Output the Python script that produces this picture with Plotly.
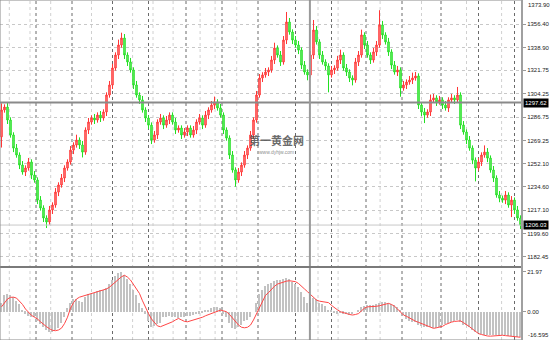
import plotly.graph_objects as go

# ---------------- data ----------------
open_first = 1272.0
close = [
    1292.1, 1294.3, 1284.6, 1273.4, 1263.6, 1258.4, 1250.9, 1245.7, 1248.7, 1253.2,
    1243.4, 1239.7, 1224.7, 1218.8, 1211.3, 1208.3, 1217.3, 1221.0, 1230.7, 1236.0,
    1241.2, 1248.7, 1253.2, 1262.1, 1265.9, 1269.6, 1265.9, 1260.6, 1277.1, 1283.1,
    1286.1, 1284.6, 1288.3, 1286.1, 1290.6, 1303.3, 1310.8, 1323.5, 1333.2, 1340.7,
    1345.9, 1333.2, 1328.0, 1322.0, 1310.8, 1303.3, 1299.6, 1292.1, 1286.1, 1280.8,
    1269.6, 1273.4, 1283.1, 1286.1, 1280.8, 1284.6, 1288.3, 1283.1, 1277.1, 1278.6,
    1273.4, 1275.6, 1278.6, 1273.4, 1277.1, 1283.1, 1286.1, 1280.8, 1288.3, 1292.1,
    1295.8, 1298.1, 1293.6, 1288.3, 1277.1, 1271.1, 1258.4, 1247.2, 1239.7, 1245.7,
    1250.9, 1258.4, 1263.6, 1273.4, 1284.6, 1303.3, 1316.0, 1318.3, 1320.5, 1322.0,
    1329.5, 1338.4, 1333.2, 1328.0, 1344.4, 1357.9, 1350.4, 1344.4, 1340.7, 1336.9,
    1325.7, 1320.5, 1318.3, 1333.2, 1351.9, 1343.0, 1333.2, 1328.0, 1325.0, 1318.3,
    1322.0, 1323.5, 1329.5, 1333.2, 1323.5, 1320.5, 1316.0, 1314.5, 1328.0, 1333.2,
    1348.2, 1340.7, 1333.2, 1329.5, 1335.5, 1340.7, 1355.7, 1348.2, 1343.0, 1335.5,
    1325.7, 1320.5, 1322.0, 1308.5, 1310.8, 1313.0, 1314.5, 1316.0, 1317.5, 1295.8,
    1290.6, 1288.3, 1290.6, 1299.6, 1301.1, 1298.1, 1299.6, 1295.8, 1293.6, 1299.6,
    1301.1, 1299.6, 1303.3, 1280.8, 1275.6, 1269.6, 1263.6, 1254.6, 1248.7, 1253.2,
    1258.4, 1260.6, 1256.1, 1247.2, 1241.2, 1228.5, 1226.1, 1224.7, 1228.5, 1221.0,
    1224.7, 1217.3, 1211.3, 1206.03,
]
wick_up = [
    5, 2, 3, 2, 2, 3, 2, 3, 2, 3,
    2, 3, 2, 3, 2, 2, 3, 2, 3, 2,
    3, 2, 2, 3, 2, 4, 2, 3, 2, 3,
    2, 3, 2, 3, 2, 2, 3, 3, 2, 4,
    4, 3, 2, 3, 2, 3, 2, 3, 2, 2,
    2, 3, 2, 3, 2, 3, 2, 2, 3, 2,
    2, 3, 2, 2, 3, 2, 3, 2, 3, 2,
    3, 4, 2, 3, 2, 2, 2, 3, 2, 3,
    2, 3, 2, 3, 2, 3, 3, 2, 3, 2,
    3, 4, 2, 3, 3, 7.5, 3, 2, 3, 3,
    2, 3, 2, 3, 7.5, 3, 2, 3, 2, 2,
    3, 2, 3, 4, 2, 3, 2, 2, 3, 3,
    4, 2, 3, 2, 3, 3, 11, 3, 2, 3,
    2, 3, 3, 2, 3, 2, 3, 4, 3, 2,
    2, 3, 2, 4, 3, 2, 3, 2, 3, 2,
    3, 2, 6, 2, 3, 2, 3, 2, 2, 3,
    2, 5, 3, 2, 3, 2, 3, 2, 3, 2,
    3, 2, 3, 2,
]
wick_dn = [
    8, 2, 3, 2, 3, 2, 3, 2, 3, 2,
    3, 2, 3, 2, 3, 4.5, 2, 3, 2, 3,
    2, 3, 2, 2, 3, 2, 3, 4, 2, 3,
    2, 3, 2, 3, 2, 3, 2, 3, 2, 3,
    2, 3, 3, 2, 3, 2, 3, 2, 3, 3,
    3, 2, 3, 2, 3, 2, 3, 2, 3, 2,
    3, 2, 3, 2, 2, 3, 2, 3, 2, 3,
    2, 3, 2, 2, 3, 2, 3, 2, 5, 2,
    3, 2, 3, 2, 3, 2, 2, 3, 2, 3,
    2, 3, 2, 3, 2, 3, 2, 3, 2, 3,
    3, 2, 4, 2, 3, 2, 3, 2, 3, 13,
    2, 3, 2, 3, 2, 3, 3, 4, 2, 3,
    2, 3, 2, 3, 2, 3, 2, 3, 2, 3,
    3, 2, 3, 6.5, 2, 3, 2, 3, 2, 3,
    3, 6, 2, 3, 2, 3, 2, 3, 2, 3,
    2, 3, 2, 3, 2, 3, 2, 3, 10, 2,
    3, 2, 3, 2, 3, 2, 3, 2, 3, 2,
    9, 3, 2, 3,
]
macd_hist = [
    5, 9, 10, 9, 8, 6, 4, 1, -1, -2.5,
    -2.7, -3, -5, -6.5, -8.5, -10, -11, -11, -10, -9,
    -6, -3, 2, 5, 7, 7, 6, 5.5, 8, 10,
    10, 10.5, 11.5, 12, 12, 13, 15, 17.5, 19.5, 21,
    21.97, 20, 18, 15, 12, 9, 5, 2, -1, -5,
    -8.2, -8, -6.5, -6, -3, -2.7, -2.5, -2.8, -3, -3.5,
    -3, -3, -2.5, -2.5, -2, -1.5, -1, -0.5, 0.5, 1,
    2, 2.5, 2.7, 2, -1, -3, -6, -9, -9.5, -8.5,
    -7.5, -5, -4.5, -3, 0, 5, 10, 12, 14, 15,
    16, 17, 17.5, 17.5, 18, 18.5, 18, 16.5, 15, 13.5,
    11, 8, 5, 5, 7.5, 7, 5, 4.5, 3, 1,
    0.5, -0.5, -1, -0.5, -1, -1.5, -2, -1.5, 0, 1,
    2.7, 3, 3.5, 3.5, 3.7, 4, 5, 5.5, 5.5, 5,
    4, 3.5, 2.5, 0.5, -2, -4, -5, -5.5, -5.5, -7,
    -8, -8.5, -8.2, -8.5, -9, -9, -8.5, -7, -6.5, -6,
    -5.5, -5, -4.5, -5.5, -7, -7.5, -8.5, -10, -11, -11.5,
    -12, -12.5, -12.5, -13, -13, -13, -12.5, -12.8, -13, -13.5,
    -13.5, -13.7, -14, -14,
]
macd_signal = [
    2.7, 5, 7, 7.9, 8, 7.5, 6, 4, 1.5, -0.5,
    -2, -3, -4, -5.5, -7, -8.2, -9.3, -10.2, -10.4, -10,
    -9, -6.5, -3, 2, 5, 7, 8, 8.5, 9, 9.5,
    10, 10.5, 11, 11.5, 12, 12.5, 13.5, 15, 16.5, 18,
    19.2, 20, 19, 17.4, 15, 12.5, 10, 6, 2, -1,
    -4, -6, -7.8, -8.2, -7.5, -6.8, -6.4, -5.5, -4.5, -3.7,
    -4.5, -5.3, -5.5, -5.0, -4.5, -4, -3.7, -3, -2.2, -1.5,
    -0.9, -0.3, 0.5, 0.9, 0.5, 0, -1.5, -3.5, -5.5, -7.3,
    -8.5, -8.8, -8.5, -7.3, -4.5, -1, 2, 6, 9, 10.5,
    12.5, 14, 15.2, 15.8, 16.3, 16.8, 17, 16.8, 16.5, 15.5,
    14.2, 12.5, 11, 9.5, 7.5, 6.4, 5.8, 5.5, 5.2, 5,
    3.5, 2, 1, 0, -0.7, -1, -1.5, -1.8, -1.5, -1,
    0.5, 2, 2.7, 2.7, 2.8, 3, 3.3, 3.8, 4.3, 4.6,
    4, 3, 1.5, 0, -1.8, -2.5, -3.5, -4.5, -5.2, -5.8,
    -6.5, -7.2, -8, -8.7, -9.1, -8.8, -8.4, -8, -7, -6.2,
    -5.7, -5.3, -5, -5, -6, -7, -8.2, -9.5, -11, -12,
    -12.5, -13, -13.3, -13.4, -13.2, -13, -12.8, -12.9, -13.1, -13.3,
    -13.4, -13.6, -13.8, -14,
]
price_top_label = 1373.90
price_ticks = [1356.40, 1338.90, 1321.75, 1304.25, 1286.75, 1269.25,
               1252.10, 1234.60, 1217.10, 1199.60, 1182.45]
macd_ticks = [21.97, 0.00]
macd_bottom_label = "-16.595"
crosshair_price = 1297.62
bid_price = 1206.03
crosshair_bar = 102.8
period_separators = [11.5, 23.5, 37, 49, 61.5, 73.5, 85.5, 98, 110, 121.5,
                     133.5, 146.5, 159, 171]
grid_bars = [2.6, 9.5, 16.4, 30, 43.7, 50.5, 57.2, 66.2, 71.2, 78.4,
             105.5, 112.2, 126.2, 140, 155, 166.7]
watermark = "第一黄金网"
watermark_url = "www.dyhjw.com"

# ---------------- derived OHLC ----------------
n = len(close)
xs = list(range(n))
opens = [open_first] + close[:-1]
highs = [max(o, c) + w for o, c, w in zip(opens, close, wick_up)]
lows = [min(o, c) - w for o, c, w in zip(opens, close, wick_dn)]

W, H = 550, 340
main_bottom = 1 - 266 / H
macd_top = 1 - 268 / H
sep_y = 1 - 267 / H
font = dict(family="Liberation Sans, Arial, sans-serif", size=6, color="#222222")

fig = go.Figure()
fig.add_trace(go.Candlestick(
    x=xs, open=opens, high=highs, low=lows, close=close,
    xaxis="x", yaxis="y", whiskerwidth=0, showlegend=False, hoverinfo="skip",
    increasing=dict(line=dict(color="#ff3636", width=1), fillcolor="#ff8f8f"),
    decreasing=dict(line=dict(color="#22e022", width=1), fillcolor="#7cf07c"),
))
fig.add_trace(go.Bar(
    x=xs, y=macd_hist, xaxis="x2", yaxis="y2", width=0.6,
    marker=dict(color="#c2c2c2", line=dict(width=0)), showlegend=False, hoverinfo="skip",
))
fig.add_trace(go.Scatter(
    x=xs, y=macd_signal, xaxis="x2", yaxis="y2", mode="lines",
    line=dict(color="#ff4646", width=1), showlegend=False, hoverinfo="skip",
))

shapes = []
for b in grid_bars:
    shapes.append(dict(type="line", xref="x", yref="paper", x0=b, x1=b, y0=0, y1=1,
                       line=dict(color="#d0d0d0", width=1, dash="dot"), layer="below"))
for b in period_separators:
    shapes.append(dict(type="line", xref="x", yref="paper", x0=b, x1=b, y0=0, y1=1,
                       line=dict(color="#6a6a6a", width=1, dash="dot"), layer="below"))
shapes += [
    dict(type="line", xref="paper", yref="y", x0=0, x1=1, y0=bid_price, y1=bid_price,
         line=dict(color="#c8c8c8", width=1)),
    dict(type="line", xref="paper", yref="y", x0=0, x1=1, y0=crosshair_price, y1=crosshair_price,
         line=dict(color="#8a8a8a", width=2)),
    dict(type="line", xref="x", yref="paper", x0=crosshair_bar, x1=crosshair_bar, y0=0, y1=1,
         line=dict(color="#9a9a9a", width=2)),
    dict(type="line", xref="paper", yref="paper", x0=0, x1=1, y0=sep_y, y1=sep_y,
         line=dict(color="#7a7a7a", width=2)),
    dict(type="rect", xref="paper", yref="paper", x0=0, x1=1, y0=0, y1=1,
         line=dict(color="#8a8a8a", width=1)),
    dict(type="line", xref="paper", yref="paper", x0=1, x1=1, y0=0, y1=1,
         line=dict(color="#a0a0a0", width=2)),
]

annotations = [
    dict(xref="paper", x=1, xanchor="left", xshift=1, yref="y", y=crosshair_price,
         text=f"{crosshair_price:.2f}", showarrow=False, bgcolor="#000000", borderpad=1,
         font=dict(family=font["family"], size=6, color="#ffffff")),
    dict(xref="paper", x=1, xanchor="left", xshift=1, yref="y", y=bid_price,
         text=f"{bid_price:.2f}", showarrow=False, bgcolor="#000000", borderpad=1,
         font=dict(family=font["family"], size=6, color="#ffffff")),
    dict(xref="paper", x=1, xanchor="left", xshift=4, yref="paper", y=1, yanchor="top",
         text=f"{price_top_label:.2f}", showarrow=False, font=font),
    dict(xref="paper", x=1, xanchor="left", xshift=4, yref="paper", y=0, yanchor="bottom",
         text=macd_bottom_label, showarrow=False, font=font),
    dict(xref="x", x=91.5, yref="y", y=1270.0, text=f"<b>{watermark}</b>", showarrow=False,
         font=dict(family="Noto Sans CJK SC", size=11, color="rgba(80,80,80,0.85)")),
    dict(xref="x", x=91.5, yref="y", y=1260.3, text=watermark_url, showarrow=False,
         font=dict(family="Liberation Sans", size=5, color="rgba(110,110,110,0.8)")),
]

fig.update_layout(
    width=W, height=H, margin=dict(l=0, r=28, t=0, b=0),
    paper_bgcolor="#ffffff", plot_bgcolor="#ffffff", font=font,
    showlegend=False, bargap=0, shapes=shapes, annotations=annotations,
    xaxis=dict(domain=[0, 1], range=[-0.5, n - 0.5], anchor="y", showticklabels=False,
               showgrid=False, zeroline=False, rangeslider=dict(visible=False), fixedrange=True),
    xaxis2=dict(domain=[0, 1], matches="x", anchor="y2", showticklabels=False,
                showgrid=False, zeroline=False),
    yaxis=dict(domain=[main_bottom, 1], range=[1175.4, 1374.35], side="right", anchor="x",
               tickvals=price_ticks, ticktext=[f"{v:.2f}" for v in price_ticks],
               ticks="outside", ticklen=3, tickcolor="#999999", tickfont=font,
               showgrid=True, gridcolor="#c8c8c8", griddash="dot", gridwidth=1,
               zeroline=False, showline=False),
    yaxis2=dict(domain=[0, macd_top], range=[-15.5, 24.0], side="right", anchor="x2",
                tickvals=macd_ticks, ticktext=[f"{v:.2f}" for v in macd_ticks],
                ticks="outside", ticklen=3, tickcolor="#999999", tickfont=font,
                showgrid=False, zeroline=False, showline=False),
)

fig.write_html("out.html")
